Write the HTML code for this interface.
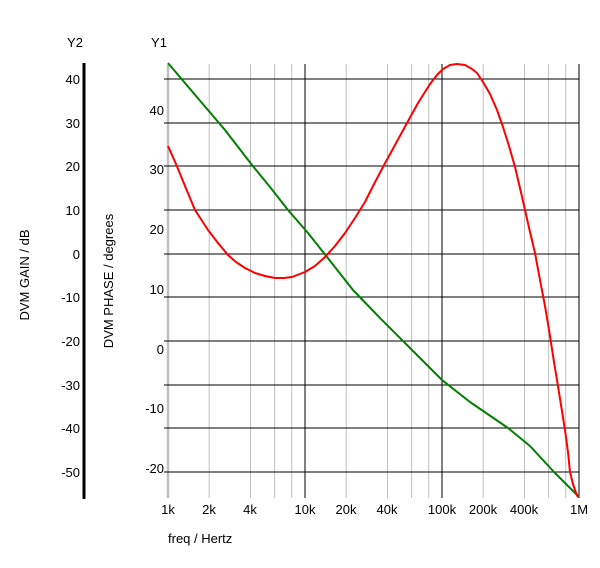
<!DOCTYPE html>
<html><head><style>
body{margin:0;background:#fff;}
svg text{font-family:"Liberation Sans",sans-serif;font-size:13px;fill:#000;}
</style></head><body>
<svg width="600" height="563" viewBox="0 0 600 563">
<g stroke="#c0c0c0" stroke-width="1">
<line x1="209.2" y1="64" x2="209.2" y2="498"/><line x1="250.5" y1="64" x2="250.5" y2="498"/><line x1="274.6" y1="64" x2="274.6" y2="498"/><line x1="291.7" y1="64" x2="291.7" y2="498"/>
<line x1="346.2" y1="64" x2="346.2" y2="498"/><line x1="387.5" y1="64" x2="387.5" y2="498"/><line x1="411.6" y1="64" x2="411.6" y2="498"/><line x1="428.7" y1="64" x2="428.7" y2="498"/>
<line x1="483.2" y1="64" x2="483.2" y2="498"/><line x1="524.5" y1="64" x2="524.5" y2="498"/><line x1="548.6" y1="64" x2="548.6" y2="498"/><line x1="565.7" y1="64" x2="565.7" y2="498"/>
<line x1="168" y1="64" x2="168" y2="498" stroke-width="2.5"/>
</g>
<g stroke="#000" stroke-width="1">
<line x1="305" y1="64" x2="305" y2="498"/><line x1="442" y1="64" x2="442" y2="498"/><line x1="579" y1="64" x2="579" y2="498"/>
<line x1="164" y1="79" x2="579" y2="79"/><line x1="164" y1="123" x2="579" y2="123"/><line x1="164" y1="166" x2="579" y2="166"/><line x1="164" y1="210" x2="579" y2="210"/><line x1="164" y1="254" x2="579" y2="254"/><line x1="164" y1="297" x2="579" y2="297"/><line x1="164" y1="341" x2="579" y2="341"/><line x1="164" y1="385" x2="579" y2="385"/><line x1="164" y1="428" x2="579" y2="428"/><line x1="164" y1="472" x2="579" y2="472"/>
</g>
<line x1="84" y1="63" x2="84" y2="499" stroke="#000" stroke-width="3"/>
<polyline fill="none" stroke="#008000" stroke-width="2" stroke-linejoin="round" points="168,63 196,96 225,130 252,165 270,187 288,210 308,233 327,257 353,290 380,318 410,348 442,380 470,402 508,428 530,446 554,472 579,497"/>
<polyline fill="none" stroke="#ff0000" stroke-width="2" stroke-linejoin="round" points="168,146 176,164 185,186 195,210 208,230 218,243 228,255 236,262 245,268 255,273 265,276 275,278 284,278 292,277 305,272 315,266 325,257 335,246 345,233 355,218 365,202 373,186 383,167 395,145 407,123 418,103 430,84 437,75 443,69 450,65 457,64 465,65 472,69 477,73 483,82 490,94 497,110 503,127 509,146 515,167 520,188 525,210 530,232 535,253 540,280 545,306 550,336 554,362 557,380 561,405 565,430 568,452 570,472 573,484 576,493 578,497"/>
<g text-anchor="end">
<text x="80" y="84">40</text><text x="80" y="128">30</text><text x="80" y="171">20</text><text x="80" y="215">10</text><text x="80" y="259">0</text><text x="80" y="302">-10</text><text x="80" y="346">-20</text><text x="80" y="390">-30</text><text x="80" y="433">-40</text><text x="80" y="477">-50</text>
<text x="164" y="115">40</text><text x="164" y="174">30</text><text x="164" y="234">20</text><text x="164" y="294">10</text><text x="164" y="354">0</text><text x="164" y="413">-10</text><text x="164" y="473">-20</text>
</g>
<g text-anchor="middle">
<text x="168" y="514">1k</text><text x="209" y="514">2k</text><text x="250" y="514">4k</text><text x="305" y="514">10k</text><text x="346" y="514">20k</text><text x="387" y="514">40k</text><text x="442" y="514">100k</text><text x="483" y="514">200k</text><text x="524" y="514">400k</text><text x="579" y="514">1M</text>
<text x="75" y="47">Y2</text><text x="159" y="47">Y1</text>
</g>
<text x="168" y="543">freq / Hertz</text>
<text transform="translate(29,275) rotate(-90)" text-anchor="middle">DVM GAIN / dB</text>
<text transform="translate(113,281) rotate(-90)" text-anchor="middle">DVM PHASE / degrees</text>
</svg>
</body></html>
